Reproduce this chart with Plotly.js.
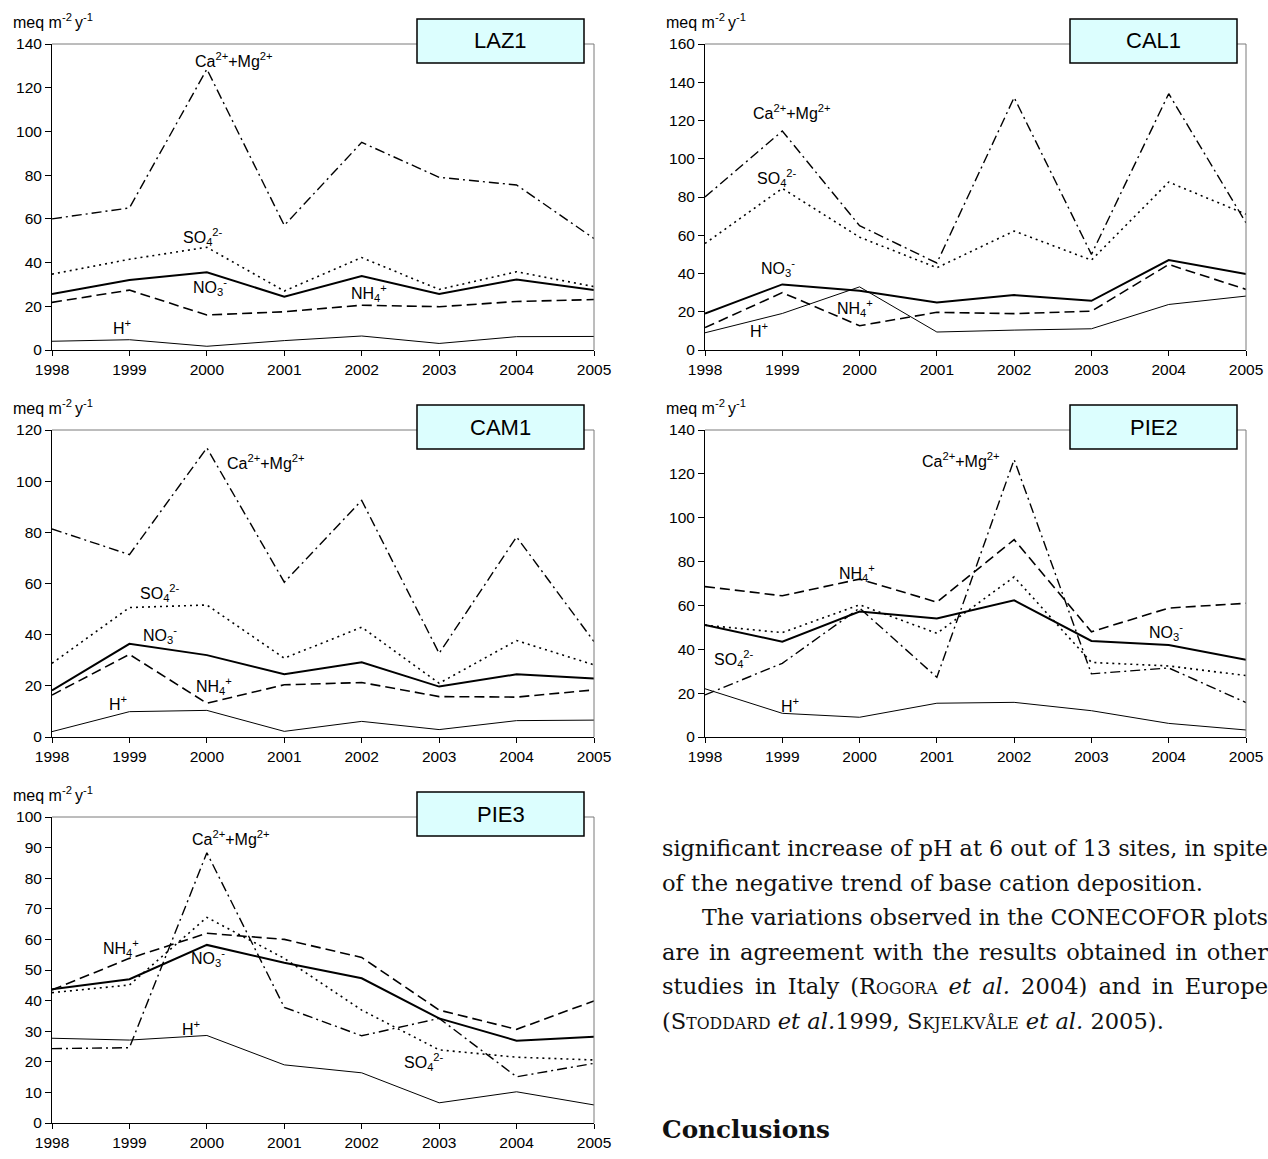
<!DOCTYPE html>
<html>
<head>
<meta charset="utf-8">
<script src="https://cdn.plot.ly/plotly-3.0.1.min.js"></script>
<style>
  html, body { margin:0; padding:0; background:#fff; }
  #wrap { position:relative; width:1268px; height:1159px; overflow:hidden; }
  #chart { position:absolute; left:0; top:0; width:1268px; height:1159px; }
  #text { position:absolute; left:662px; top:831px; width:606px;
          font-family:"DejaVu Serif","Liberation Serif",serif; font-size:23px; color:#111; }
  #text .ln { height:34.6px; line-height:34.6px; white-space:nowrap; transform-origin:0 50%; box-sizing:border-box; }
  #text .sc { font-variant:small-caps; }
  #concl { position:absolute; left:662px; top:1115px; font-family:"DejaVu Serif","Liberation Serif",serif;
           font-weight:bold; font-size:25px; color:#111; white-space:nowrap; transform-origin:0 50%; }
</style>
</head>
<body>
<div id="wrap">
  <div id="chart"></div>
  <div id="text">
    <div class="ln" data-j="1" data-ind="0">significant increase of pH at 6 out of 13 sites, in spite</div>
    <div class="ln" data-j="0" data-ind="0" id="refline">of the negative trend of base cation deposition.</div>
    <div class="ln" data-j="1" data-ind="40">The variations observed in the CONECOFOR plots</div>
    <div class="ln" data-j="1" data-ind="0">are in agreement with the results obtained in other</div>
    <div class="ln" data-j="1" data-ind="0">studies in Italy (<span class="sc">Rogora</span> <i>et al.</i> 2004) and in Europe</div>
    <div class="ln" data-j="0" data-ind="0">(<span class="sc">Stoddard</span> <i>et al.</i>1999, <span class="sc">Skjelkvåle</span> <i>et al.</i> 2005).</div>
  </div>
  <div id="concl">Conclusions</div>
</div>
<script>
// ---------------- DATA ----------------
const years = [1998, 1999, 2000, 2001, 2002, 2003, 2004, 2005];
const yearLabels = ['1998', '1999', '2000', '2001', '2002', '2003', '2004', '2005'];
const stations = ['LAZ1', 'CAL1', 'CAM1', 'PIE2', 'PIE3'];

const caMg_LAZ1 = [60, 65, 128.5, 57, 95, 79, 75.5, 51];
const so4_LAZ1  = [34.7, 41.5, 47, 27, 42.3, 27.7, 35.8, 29];
const no3_LAZ1  = [25.6, 32, 35.6, 24.4, 33.8, 25.6, 32.3, 27.4];
const nh4_LAZ1  = [21.8, 27.4, 16, 17.5, 20.5, 19.8, 22.2, 23.1];
const h_LAZ1    = [4, 4.7, 1.7, 4.3, 6.4, 3, 6.1, 6.2];

const caMg_CAL1 = [80, 114.5, 65, 45.5, 132, 50, 134, 66.5];
const so4_CAL1  = [55.7, 84.5, 59, 43, 62.2, 47, 87.8, 71];
const no3_CAL1  = [19.1, 34.3, 31, 24.9, 28.7, 25.7, 47, 39.7];
const nh4_CAL1  = [11.7, 30, 12.7, 19.7, 19, 20.3, 44.7, 31.7];
const h_CAL1    = [9, 19.1, 33, 9.4, 10.4, 11.1, 23.8, 28.2];

const caMg_CAM1 = [81.3, 71.3, 113, 60.5, 92.5, 32.7, 78.2, 37.3];
const so4_CAM1  = [28.8, 50.6, 51.6, 30.8, 42.9, 21, 37.7, 28.2];
const no3_CAM1  = [18.2, 36.4, 32, 24.5, 29.2, 19.7, 24.5, 22.9];
const nh4_CAM1  = [16.4, 32.3, 13.2, 20.4, 21.3, 15.8, 15.6, 18.4];
const h_CAM1    = [2.1, 9.9, 10.4, 2.2, 6.1, 2.9, 6.4, 6.6];

const caMg_PIE2 = [19.2, 33.6, 58.8, 27.2, 126.5, 28.8, 31.5, 15.7];
const so4_PIE2  = [51, 47.6, 60.3, 47.3, 73, 34, 32.4, 28];
const no3_PIE2  = [51.1, 43.5, 57.2, 54, 62.3, 43.8, 42, 35.2];
const nh4_PIE2  = [68.6, 64.4, 72, 61.5, 90, 48, 58.8, 61];
const h_PIE2    = [22, 10.8, 9, 15.4, 15.8, 12, 6.2, 3.2];

const caMg_PIE3 = [24.3, 24.6, 88.3, 37.8, 28.5, 34.2, 15.1, 19.5];
const so4_PIE3  = [42.6, 45.1, 67.2, 53.8, 36.9, 23.9, 21.5, 20.6];
const no3_PIE3  = [43.7, 47, 58.2, 52.4, 47.3, 34.2, 26.9, 28.2];
const nh4_PIE3  = [43.5, 53.8, 62, 60, 54.1, 36.9, 30.6, 39.9];
const h_PIE3    = [27.7, 27.1, 28.6, 19, 16.4, 6.6, 10.2, 5.9];

const seriesLabels = {
  ca:  'Ca<sup>2+</sup>+Mg<sup>2+</sup>',
  so4: 'SO<sub>4</sub><sup>2-</sup>',
  no3: 'NO<sub>3</sub><sup>-</sup>',
  nh4: 'NH<sub>4</sub><sup>+</sup>',
  h:   'H<sup>+</sup>'
};
const unitLabel = 'meq m<sup>-2 </sup>y<sup>-1</sup>';

// ---------------- LAYOUT / STYLE ----------------
const W = 1268, H = 1159;
const px = x => x / W;
const py = y => 1 - y / H;
const FONT = 'Liberation Sans, Arial, sans-serif';

const styles = {
  ca:  {color:'#000', width:1.4, dash:'10px,4px,2px,4px'},
  so4: {color:'#000', width:1.6, dash:'2px,4px'},
  no3: {color:'#000', width:2.0, dash:'solid'},
  nh4: {color:'#000', width:1.6, dash:'10px,5px'},
  h:   {color:'#000', width:1.0, dash:'solid'}
};

const panels = [
  {name:'LAZ1', data:{ca:caMg_LAZ1, so4:so4_LAZ1, no3:no3_LAZ1, nh4:nh4_LAZ1, h:h_LAZ1},
   ymax:140, dtick:20, x0:52, x1:594, top:44, bot:350,
   lab:{ca:[2000.35,132.7], so4:[1999.95,51.7], no3:[2000.04,28.8], nh4:[2002.1,26.1], h:[1998.9,10.5]}},
  {name:'CAL1', data:{ca:caMg_CAL1, so4:so4_CAL1, no3:no3_CAL1, nh4:nh4_CAL1, h:h_CAL1},
   ymax:160, dtick:20, x0:705, x1:1246, top:44, bot:350,
   lab:{ca:[1999.12,124.4], so4:[1998.93,90], no3:[1998.94,42.9], nh4:[1999.94,22], h:[1998.7,10.5]}},
  {name:'CAM1', data:{ca:caMg_CAM1, so4:so4_CAM1, no3:no3_CAM1, nh4:nh4_CAM1, h:h_CAM1},
   ymax:120, dtick:20, x0:52, x1:594, top:430, bot:737,
   lab:{ca:[2000.77,107.5], so4:[1999.39,56.3], no3:[1999.4,39.9], nh4:[2000.09,19.9], h:[1998.85,13.3]}},
  {name:'PIE2', data:{ca:caMg_PIE2, so4:so4_PIE2, no3:no3_PIE2, nh4:nh4_PIE2, h:h_PIE2},
   ymax:140, dtick:20, x0:705, x1:1246, top:430, bot:737,
   lab:{ca:[2001.31,126.3], so4:[1998.37,35.5], no3:[2003.96,47.9], nh4:[1999.97,74.8], h:[1999.1,14.6]}},
  {name:'PIE3', data:{ca:caMg_PIE3, so4:so4_PIE3, no3:no3_PIE3, nh4:nh4_PIE3, h:h_PIE3},
   ymax:100, dtick:10, x0:52, x1:594, top:817, bot:1123,
   lab:{ca:[2000.31,93.1], so4:[2002.81,19.9], no3:[2000.01,53.9], nh4:[1998.89,57.2], h:[1999.79,31]}}
];

const traces = [];
const layout = {
  width: W, height: H,
  margin: {l:0, r:0, t:0, b:0},
  paper_bgcolor: '#fff', plot_bgcolor: 'rgba(0,0,0,0)',
  showlegend: false,
  font: {family: FONT, size: 15, color: '#000'},
  shapes: [], annotations: []
};

panels.forEach((p, i) => {
  const n = i + 1;
  const xa = n === 1 ? 'x' : 'x' + n;
  const ya = n === 1 ? 'y' : 'y' + n;
  layout[n === 1 ? 'xaxis' : 'xaxis' + n] = {
    domain: [px(p.x0), px(p.x1)], anchor: ya,
    range: [1998, 2005], tickmode: 'array', tickvals: years, ticktext: yearLabels,
    ticks: 'outside', ticklen: 5, tickwidth: 1, tickcolor: '#000',
    showline: true, linecolor: '#000', linewidth: 1,
    showgrid: false, zeroline: false, fixedrange: true,
    tickfont: {family: FONT, size: 15.5, color: '#000'}
  };
  layout[n === 1 ? 'yaxis' : 'yaxis' + n] = {
    domain: [py(p.bot), py(p.top)], anchor: xa,
    range: [0, p.ymax], dtick: p.dtick, tick0: 0,
    ticks: 'outside', ticklen: 6, tickwidth: 1, tickcolor: '#000',
    showline: true, linecolor: '#000', linewidth: 1,
    showgrid: false, zeroline: false, fixedrange: true,
    tickfont: {family: FONT, size: 15.5, color: '#000'}
  };
  ['h', 'nh4', 'no3', 'so4', 'ca'].forEach(k => {
    traces.push({
      type: 'scatter', mode: 'lines', x: years, y: p.data[k],
      xaxis: xa, yaxis: ya, line: styles[k], hoverinfo: 'skip'
    });
    layout.annotations.push({
      xref: xa, yref: ya, x: p.lab[k][0], y: p.lab[k][1],
      xanchor: 'center', yanchor: 'middle',
      text: seriesLabels[k], showarrow: false,
      font: {family: FONT, size: 16, color: '#000'}
    });
  });
  // grey top and right frame
  layout.shapes.push({type:'line', xref:'paper', yref:'paper',
    x0: px(p.x0), x1: px(p.x1), y0: py(p.top), y1: py(p.top), line:{color:'#7a7a7a', width:1}});
  layout.shapes.push({type:'line', xref:'paper', yref:'paper',
    x0: px(p.x1), x1: px(p.x1), y0: py(p.top), y1: py(p.bot), line:{color:'#7a7a7a', width:1}});
  // station box
  const bx0 = p.x0 === 52 ? 417 : 1070, bx1 = p.x0 === 52 ? 584 : 1237;
  const by0 = p.top - 25, by1 = p.top + 19;
  layout.shapes.push({type:'rect', xref:'paper', yref:'paper',
    x0: px(bx0), x1: px(bx1), y0: py(by1), y1: py(by0),
    fillcolor:'#dcfefe', line:{color:'#000', width:1.5}});
  layout.annotations.push({xref:'paper', yref:'paper', x: px((bx0 + bx1) / 2), y: py((by0 + by1) / 2),
    xanchor:'center', yanchor:'middle',
    text: p.name, showarrow:false, font:{family: FONT, size: 22, color:'#000'}});
  // unit label
  layout.annotations.push({xref:'paper', yref:'paper', x: px(p.x0 - 41), y: py(p.top - 23),
    xanchor:'left', yanchor:'middle', text: unitLabel, showarrow:false,
    font:{family: FONT, size: 16, color:'#000'}});
});

Plotly.newPlot('chart', traces, layout, {staticPlot: true, displayModeBar: false});

// condense the serif text so it matches the widths of the original column
(function fitText() {
  const textW = el => { const r = document.createRange(); r.selectNodeContents(el); return r.getBoundingClientRect().width; };
  const ref = document.getElementById('refline');
  const w2 = textW(ref);
  const s = w2 > 0 ? 541 / w2 : 1;
  document.querySelectorAll('#text .ln').forEach(el => {
    const ind = +el.dataset.ind;
    const avail = 606 - ind;
    const nat = textW(el);
    let si = s;
    if (el.dataset.j === '1' && nat * s > avail) si = avail / nat;
    el.style.width = (606 / si) + 'px';
    el.style.paddingLeft = (ind / si) + 'px';
    el.style.transform = 'scaleX(' + si + ')';
    if (el.dataset.j === '1') {
      el.style.whiteSpace = 'normal';
      el.style.textAlign = 'justify';
      el.style.textAlignLast = 'justify';
      el.style.overflow = 'hidden';
    }
  });
  const c = document.getElementById('concl');
  const cw = textW(c);
  if (cw > 0) c.style.transform = 'scaleX(' + (168 / cw) + ')';
})();
</script>
</body>
</html>
